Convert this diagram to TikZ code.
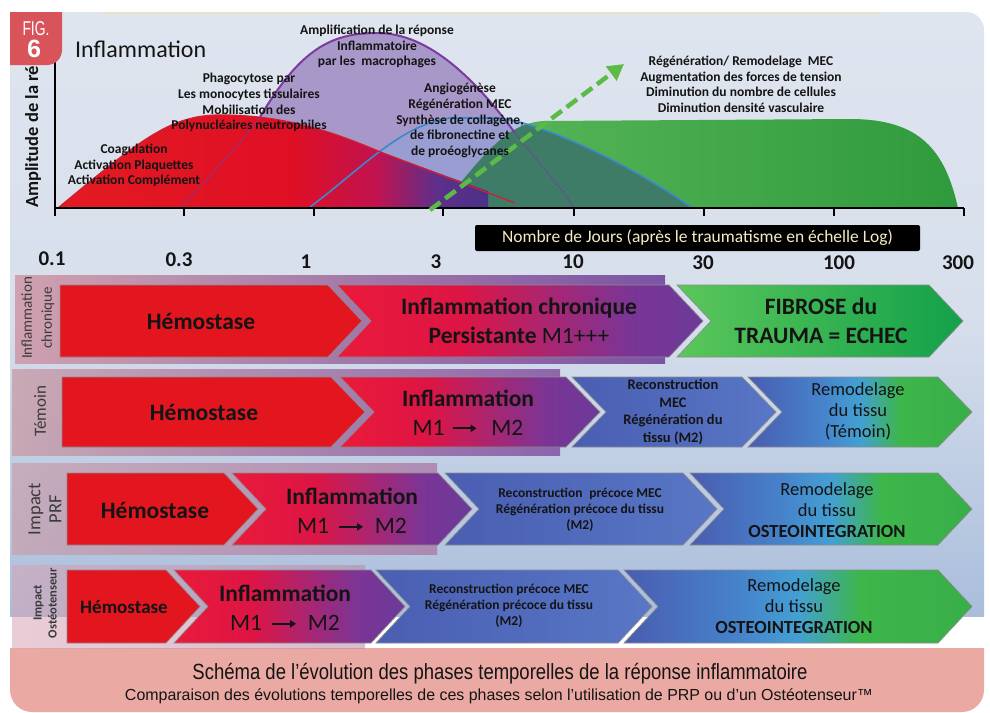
\documentclass[tikz,border=0pt]{standalone}
\usepackage{fontspec}
\usepackage{graphicx}
\setmainfont{Carlito}
\newfontfamily\capfont{Liberation Sans}
\usetikzlibrary{arrows.meta}

\definecolor{panelTop}{HTML}{DFE5EF}
\definecolor{panelMid}{HTML}{D7DFEC}
\definecolor{panelBot}{HTML}{A9BDDB}
\definecolor{capc}{HTML}{EBA9A3}
\definecolor{figc}{HTML}{D9535B}
\definecolor{beige}{HTML}{E9E2C9}
\definecolor{lav}{HTML}{A897C9}
\definecolor{lblue}{HTML}{8EA3D8}
\definecolor{gL}{HTML}{5BB95B}
\definecolor{gR}{HTML}{2F9A3D}
\definecolor{tealc}{HTML}{3E7C68}
\definecolor{cR}{HTML}{E31B23}
\definecolor{cRb}{HTML}{DF0F24}
\definecolor{cCrim}{HTML}{C1134F}
\definecolor{cPub}{HTML}{5D2F8A}
\definecolor{cPu}{HTML}{4B3189}
\definecolor{purl}{HTML}{7B3B9F}
\definecolor{bluel}{HTML}{3C88CF}
\definecolor{redl}{HTML}{CF2030}
\definecolor{arrg}{HTML}{5CBB47}
\definecolor{chR}{HTML}{E3161F}
\definecolor{iA}{HTML}{EA1A3A}
\definecolor{iB}{HTML}{DD1545}
\definecolor{iC}{HTML}{A52775}
\definecolor{iD}{HTML}{7A3596}
\definecolor{iE}{HTML}{6C3A98}
\definecolor{rA}{HTML}{4A5CB0}
\definecolor{rB}{HTML}{4684CC}
\definecolor{rC}{HTML}{43A0D3}
\definecolor{rD}{HTML}{3DB64A}
\definecolor{rE}{HTML}{38AE48}
\definecolor{blL}{HTML}{4A5EB2}
\definecolor{blR}{HTML}{5877C5}
\definecolor{fibL}{HTML}{5BC65A}
\definecolor{fibR}{HTML}{13A14A}
\definecolor{b1L}{HTML}{CF97A5}
\definecolor{b1R}{HTML}{6B3C98}
\definecolor{b2L}{HTML}{C99EA8}
\definecolor{b2R}{HTML}{7E4B9E}
\definecolor{b3L}{HTML}{C9A0AC}
\definecolor{b3R}{HTML}{A8719F}
\definecolor{b4L}{HTML}{D8A4B4}
\definecolor{b4R}{HTML}{B987A8}
\definecolor{cream}{HTML}{F4ECC4}
\definecolor{labc}{HTML}{3A3A3A}
\definecolor{txtc}{HTML}{141414}

\pgfdeclarehorizontalshading{gredfill}{100bp}{color(0bp)=(cR); color(25bp)=(cR); color(52bp)=(cRb); color(62bp)=(cCrim); color(69bp)=(cPub); color(75bp)=(cPu); color(100bp)=(cPu)}
\pgfdeclarehorizontalshading{chinfl}{100bp}{color(0bp)=(iA); color(25bp)=(iA); color(42bp)=(iB); color(55bp)=(iC); color(65bp)=(iD); color(75bp)=(iE); color(100bp)=(iE)}
\pgfdeclarehorizontalshading{chrem}{100bp}{color(0bp)=(rA); color(25bp)=(rA); color(42bp)=(rB); color(50bp)=(rC); color(59bp)=(rD); color(75bp)=(rE); color(100bp)=(rE)}

\newcommand\chvd{34}
\newcommand\chv[6]{%
  \pgfmathsetmacro\chvm{(#4+#5)/2}%
  \path[#1] (#2,#4) -- ({#3-\chvd},#4) -- (#3,\chvm) -- ({#3-\chvd},#5) -- (#2,#5) -- ({#2+#6*\chvd},\chvm) -- cycle;}
\newcommand\mtarrow{\tikz[baseline=-0.62ex]\draw[line width=1.7pt,-{Triangle[length=6pt,width=7.5pt]}] (0pt,0pt) -- (24pt,0pt);}

\newcommand\purpA{(180,208) .. controls (215,170) and (240,145) .. (260,117)}
\newcommand\purpB{(260,117) .. controls (300,50) and (330,33) .. (377,33) .. controls (425,33) and (470,72) .. (515,133)}
\newcommand\purpC{(515,133) .. controls (540,165) and (560,185) .. (574,208)}
\newcommand\bluep{(310,207) .. controls (360,170) and (400,125) .. (450,118) -- (495,118) .. controls (540,120) and (640,170) .. (692,208)}
\newcommand\greenp{(440,208) .. controls (480,160) and (505,122) .. (545,121) -- (850,119) .. controls (920,119) and (945,150) .. (958,208) -- cycle}
\newcommand\redp{(58,208) .. controls (140,140) and (170,115) .. (220,115) .. controls (290,115) and (340,135) .. (383,153)}

\begin{document}
\begin{tikzpicture}[x=1pt,y=-1pt,
  gtxt/.style={align=center,font=\bfseries\fontsize{13.5}{15.7}\selectfont,text=txtc,inner sep=0pt},
  bigtxt/.style={align=center,font=\bfseries\fontsize{23.5}{29}\selectfont,text=txtc,inner sep=0pt},
  rectxt/.style={align=center,font=\bfseries\fontsize{14.5}{17.5}\selectfont,text=txtc,inner sep=0pt},
  prectxt/.style={align=center,font=\bfseries\fontsize{13.5}{16.2}\selectfont,text=txtc,inner sep=0pt},
  remtxt/.style={align=center,font=\fontsize{18.5}{21}\selectfont,text=txtc,inner sep=0pt},
  ticktxt/.style={font=\bfseries\fontsize{21}{21}\selectfont,text=txtc,inner sep=0pt},
  rowlab/.style={rotate=90,align=center,text=labc,inner sep=0pt},
  chev/.style={draw=black!45,line width=0.7pt},
]
\useasboundingbox (0,0) rectangle (990,712);
\fill[white] (0,0) rectangle (990,712);

% caption band
\fill[capc] (10,648) -- (984,648) -- (984,690) .. controls (984,702.1) and (974.1,712) .. (962,712) -- (32,712) .. controls (19.9,712) and (10,702.1) .. (10,690) -- cycle;
% main panel
\shade[top color=panelTop, bottom color=panelBot, middle color=panelMid] (10,617) -- (10,12) -- (966,12) .. controls (975.9,12) and (984,20.1) .. (984,30) -- (984,617) -- cycle;
\draw[beige,line width=1.5pt] (100,12.8) -- (880,12.8);

% ---------- graph ----------
\fill[lav] \purpA -- \purpB -- \purpC -- cycle;
\fill[lblue,fill opacity=0.55] \bluep -- cycle;
\shade[left color=gL,right color=gR] \greenp;
\begin{scope}
  \clip \greenp;
  \fill[tealc] \bluep -- cycle;
\end{scope}
\shade[shading=gredfill] \redp -- (488,191.2) -- (488,208) -- cycle;

\draw[purl,line width=1.4pt,dash pattern=on 1.4pt off 1.6pt] \purpA;
\draw[purl,line width=2pt] \purpB;
\draw[purl,line width=1.4pt,dash pattern=on 1.4pt off 1.6pt] \purpC;
\draw[bluel,line width=1.6pt] \bluep;
\draw[redl,line width=1.3pt] \redp -- (515,203);

\draw[line width=1.4pt] (55,62) -- (55,216);
\draw[line width=1.4pt] (55,208) -- (964,208);
\foreach \t in {184,314,443,574,704,834,964} \draw[line width=1.2pt] (\t,208) -- (\t,216);

\coordinate (arS) at (430,210);
\coordinate (arE) at (624,64);
\draw[arrg,line width=4.5pt,dash pattern=on 13pt off 6pt,-{Triangle[length=16pt,width=17pt]}] (arS) -- (arE);

\node[gtxt] (coag) at (134,165.5) {Coagulation\\Activation Plaquettes\\Activation Complément};
\node[gtxt] (phago) at (249,102.7) {Phagocytose par\\Les monocytes tissulaires\\Mobilisation des\\Polynucléaires neutrophiles};
\node[gtxt] (ampli) at (377,46.5) {Amplification de la réponse\\Inflammatoire\\par les\ \ macrophages};
\node[gtxt] (angio) at (460,120.6) {Angiogénèse\\Régénération MEC\\Synthèse de collagène,\\de fibronectine et\\de proéoglycanes};
\node[gtxt] (regen) at (741,84.3) {Régénération/ Remodelage\ \ MEC\\Augmentation des forces de tension\\Diminution du nombre de cellules\\Diminution densité vasculaire};

\node[rotate=90,anchor=base west,inner sep=0pt,font=\bfseries\fontsize{18.5}{18.5}\selectfont,text=txtc] (ampl) at (38,208) {Amplitude de la ré};

\node[anchor=base west,inner sep=0pt,font=\fontsize{24}{24}\selectfont,text=txtc] (titre) at (75,57) {Inflammation};

% FIG tab
\fill[figc] (10,12) -- (62,12) -- (62,50) .. controls (62,58.3) and (55.3,65) .. (47,65) -- (10,65) -- cycle;
\node[text=white,inner sep=0pt] (figt) at (36,29) {\resizebox{27pt}{\height}{\capfont\fontsize{20}{20}\selectfont FIG.}};
\node[text=white,inner sep=0pt] (fign) at (34,49) {\resizebox{14pt}{\height}{\capfont\bfseries\fontsize{25}{25}\selectfont 6}};

% axis label box and ticks
\node[fill=black,rounded corners=2pt,minimum width=445pt,minimum height=26pt,inner sep=0pt,text=cream,font=\fontsize{17.5}{17.5}\selectfont] (nbj) at (697.5,238) {Nombre de Jours (après le traumatisme en échelle Log)};
\node[ticktxt] (t1) at (52,259) {0.1};
\node[ticktxt] (t2) at (179,260) {0.3};
\node[ticktxt] (t3) at (306,262) {1};
\node[ticktxt] (t4) at (436,262) {3};
\node[ticktxt] (t5) at (573,262) {10};
\node[ticktxt] (t6) at (703,263) {30};
\node[ticktxt] (t7) at (839,263) {100};
\node[ticktxt] (t8) at (958,263) {300};

% ---------- rows ----------
\fill[white] (0,617) rectangle (990,648);
\shade[left color=b1L,right color=b1R,fill opacity=0.85] (15,275) rectangle (665,363);
\shade[left color=b2L,right color=b2R,fill opacity=0.8] (12,369) rectangle (560,455);
\shade[left color=b3L,right color=b3R,fill opacity=0.7] (12,463) rectangle (437,554);
\shade[left color=b4L,right color=b4R,fill opacity=0.55] (12,565) rectangle (365,648);

\node[rowlab,font=\fontsize{15}{20}\selectfont] (lab1) at (38,318) {Inflammation\\chronique};
\node[rowlab,font=\fontsize{17}{17}\selectfont] (lab2) at (40,411) {Témoin};
\node[rowlab,font=\fontsize{18.5}{21}\selectfont] (lab3) at (45,509) {Impact\\PRF};
\node[rowlab,font=\bfseries\fontsize{12.5}{15}\selectfont] (lab4) at (45,603) {Impact\\Ostéotenseur};

% row 1
\chv{chev,fill=chR}{60}{362}{285}{357}{0}
\chv{chev,shade,shading=chinfl}{337}{703}{285}{357}{1}
\chv{chev,left color=fibL,right color=fibR}{677}{963}{285}{357}{1}
\node[bigtxt] (h1) at (201,321) {Hémostase};
\node[bigtxt] (i1) at (519,321) {Inflammation chronique\\Persistante {\mdseries M1+++}};
\node[bigtxt] (f1) at (821,321) {FIBROSE du\\TRAUMA = ECHEC};

% row 2
\chv{chev,fill=chR}{62}{365}{377}{447}{0}
\chv{chev,shade,shading=chinfl}{340}{600}{377}{447}{1}
\chv{chev,left color=blL,right color=blR}{572}{776}{377}{447}{1}
\chv{chev,shade,shading=chrem}{748}{972}{377}{447}{1}
\node[bigtxt] (h2) at (204,412) {Hémostase};
\node[bigtxt] (i2) at (468,412.5) {Inflammation\\{\mdseries M1\hspace{7pt}\mtarrow\hspace{14pt}M2}};
\node[rectxt] (r2) at (673,412) {Reconstruction\\MEC\\Régénération du\\tissu (M2)};
\node[remtxt] (m2) at (858,411) {Remodelage\\du tissu\\(Témoin)};

% row 3
\chv{chev,fill=chR}{67}{258}{473}{545}{0}
\chv{chev,shade,shading=chinfl}{232}{472}{473}{545}{1}
\chv{chev,left color=blL,right color=blR}{445}{717}{473}{545}{1}
\chv{chev,shade,shading=chrem}{690}{972}{473}{545}{1}
\node[bigtxt] (h3) at (155,510) {Hémostase};
\node[bigtxt] (i3) at (352,511) {Inflammation\\{\mdseries M1\hspace{9pt}\mtarrow\hspace{11pt}M2}};
\node[prectxt] (r3) at (580,510) {Reconstruction\enspace précoce MEC\\Régénération précoce du tissu\\(M2)};
\node[remtxt] (m3) at (827,510) {Remodelage\\du tissu\\\textbf{OSTEOINTEGRATION}};

% row 4
\chv{chev,fill=chR}{67}{200}{570}{643}{0}
\chv{chev,shade,shading=chinfl}{174}{405}{570}{643}{1}
\chv{chev,left color=blL,right color=blR}{376}{652}{570}{643}{1}
\chv{chev,shade,shading=chrem}{624}{972}{570}{643}{1}
\node[bigtxt,font=\bfseries\fontsize{19}{19}\selectfont] (h4) at (124,607) {Hémostase};
\node[bigtxt] (i4) at (285,608) {Inflammation\\{\mdseries M1\hspace{9pt}\mtarrow\hspace{11pt}M2}};
\node[prectxt] (r4) at (509,606) {Reconstruction précoce MEC\\Régénération précoce du tissu\\(M2)};
\node[remtxt] (m4) at (794,606) {Remodelage\\du tissu\\\textbf{OSTEOINTEGRATION}};

% caption text
\node[text=txtc,inner sep=0pt] (cap1) at (500,674) {\resizebox{615pt}{\height}{\capfont\fontsize{22}{22}\selectfont Schéma de l’évolution des phases temporelles de la réponse inflammatoire}};
\node[text=txtc,inner sep=0pt] (cap2) at (499,696) {\resizebox{748pt}{\height}{\capfont\fontsize{16}{16}\selectfont Comparaison des évolutions temporelles de ces phases selon l’utilisation de PRP ou d’un Ostéotenseur™}};
\end{tikzpicture}
\end{document}
